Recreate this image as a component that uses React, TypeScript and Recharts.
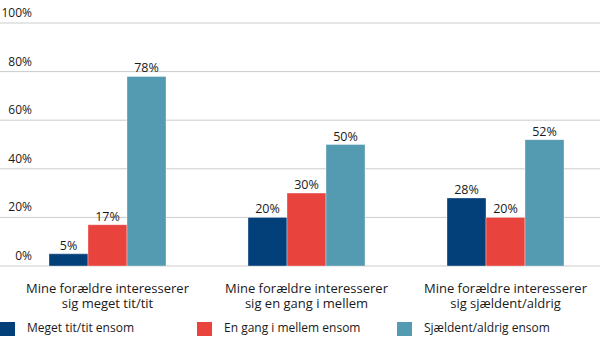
import React from "react";
import { BarChart, Bar, XAxis, YAxis, CartesianGrid, LabelList } from "recharts";

const categories = [
  "Mine forældre interesserer\nsig meget tit/tit",
  "Mine forældre interesserer\nsig en gang i mellem",
  "Mine forældre interesserer\nsig sjældent/aldrig",
];
const seriesNames = ["Meget tit/tit ensom", "En gang i mellem ensom", "Sjældent/aldrig ensom"];
const meget = [5, 20, 28];
const enGang = [17, 30, 20];
const sjaeldent = [78, 50, 52];
const yTicks = [0, 20, 40, 60, 80, 100];
const colors = ["#033f79", "#e8433d", "#549ab1"];

const data = categories.map((c, i) => ({ cat: c, s0: meget[i], s1: enGang[i], s2: sjaeldent[i] }));

const FONT = "'Open Sans', sans-serif";

const YTick = (props: any) => {
  const { y, payload } = props;
  return (
    <text x={32} y={y - 6} textAnchor="end" fontSize={12} fontFamily={FONT} fill="#1a1a1a">
      {payload.value}%
    </text>
  );
};

const XTick = (props: any) => {
  const { x, y, payload } = props;
  const lines = String(payload.value).split("\n");
  return (
    <g>
      {lines.map((l: string, i: number) => (
        <text key={i} x={x} y={y + 19 + i * 15} textAnchor="middle" fontSize={13} fontFamily={FONT} fill="#1a1a1a">
          {l}
        </text>
      ))}
    </g>
  );
};

const GridLine = (props: any) => {
  const { y1 } = props;
  return <line x1={0} x2={600} y1={y1} y2={y1} stroke="#cccccc" strokeWidth={1} />;
};

export default function App() {
  return (
    <div style={{ position: "absolute", left: 0, top: 0, width: 600, height: 359, overflow: "hidden", background: "#fff" }}>
      <BarChart
        width={605}
        height={359}
        data={data}
        margin={{ top: 23, right: 0, bottom: 43, left: 0 }}
        barCategoryGap={41}
        barGap={0}
      >
        <CartesianGrid vertical={false} horizontal={GridLine as any} />
        <YAxis domain={[0, 100]} ticks={yTicks} axisLine={false} tickLine={false} width={8} tick={YTick} />
        <XAxis dataKey="cat" axisLine={false} tickLine={false} tick={XTick} interval={0} height={50} />
        {["s0", "s1", "s2"].map((k, i) => (
          <Bar key={k} dataKey={k} fill={colors[i]} stroke="#ffffff" strokeOpacity={0.35} strokeWidth={1} isAnimationActive={false}>
            <LabelList dataKey={k} position="top" offset={4} formatter={(v: any) => `${v}%`} fontSize={12.5} fontFamily={FONT} fill="#1a1a1a" />
          </Bar>
        ))}
      </BarChart>
      <svg width={600} height={40} style={{ position: "absolute", left: 0, top: 318 }}>
        {seriesNames.map((n, i) => {
          const x0 = [0, 197, 397][i];
          return (
            <g key={n}>
              <rect x={x0} y={4} width={15} height={14} fill={colors[i]} />
              <text x={x0 + 27} y={14} fontSize={12} fontFamily={FONT} fill="#1a1a1a">
                {n}
              </text>
            </g>
          );
        })}
      </svg>
    </div>
  );
}
